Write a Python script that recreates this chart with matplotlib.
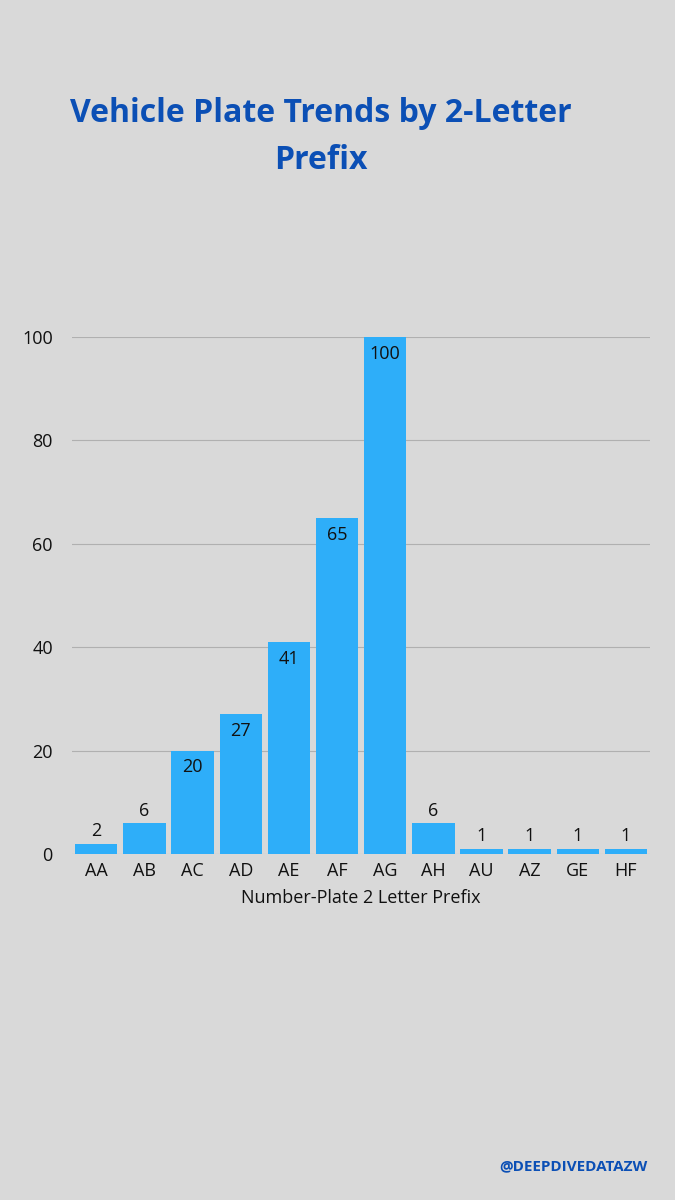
import matplotlib
matplotlib.use("Agg")
import matplotlib.pyplot as plt

categories = ["AA","AB","AC","AD","AE","AF","AG","AH","AU","AZ","GE","HF"]
values = [2,6,20,27,41,65,100,6,1,1,1,1]
yticks = [0,20,40,60,80,100]

bg = "#d9d9d9"
bar_c = "#2eaef9"
blue = "#0b4fb5"
plt.rcParams['font.family'] = ['Open Sans', 'DejaVu Sans']

fig = plt.figure(figsize=(6.75,12), dpi=100, facecolor=bg)
ax = fig.add_axes([0.107, 0.2883, 0.856, 0.4308], facecolor=bg)
x = range(len(categories))
ax.bar(x, values, width=0.88, color=bar_c, zorder=3)
ax.set_xlim(-0.5, len(categories)-0.5)
ax.set_ylim(0, 100)
ax.set_yticks(yticks)
ax.set_xticks(list(x))
ax.set_xticklabels(categories)
ax.tick_params(length=0, labelsize=13, colors="#111111", pad=6)
ax.tick_params(axis='y', pad=14)
for s in ax.spines.values():
    s.set_visible(False)
ax.yaxis.grid(True, color="#b0b0b0", lw=0.8, zorder=0)
ax.set_xlabel("Number-Plate 2 Letter Prefix", fontsize=13, color="#111111", labelpad=6)
ax.set_clip_on(False)
for i, v in zip(x, values):
    if v >= 20:
        ax.annotate(str(v), (i, v), xytext=(0,-12), textcoords="offset points",
                    ha="center", va="center", fontsize=13, color="#111111", zorder=4)
    else:
        ax.annotate(str(v), (i, v), xytext=(0,9), textcoords="offset points",
                    ha="center", va="center", fontsize=13, color="#111111", zorder=4)

fig.text(0.475, 0.905, "Vehicle Plate Trends by 2-Letter", ha="center", va="center",
         fontsize=23, fontweight="bold", color=blue)
fig.text(0.475, 0.866, "Prefix", ha="center", va="center",
         fontsize=23, fontweight="bold", color=blue)
fig.text(0.96, 0.028, "@DEEPDIVEDATAZW", ha="right", va="center",
         fontsize=11, fontweight="bold", color=blue)
fig.savefig("out.png", dpi=100, facecolor=bg)
